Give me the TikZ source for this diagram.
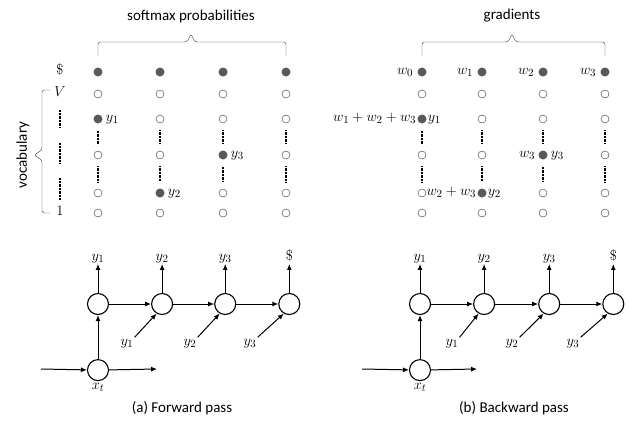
\documentclass[tikz,border=0pt]{standalone}
\usepackage{fontspec}
\setsansfont{Carlito}
\usepackage{tikz}
\usetikzlibrary{arrows.meta,positioning}

\begin{document}
\begin{tikzpicture}[
    x=1pt, y=-1pt,
    >={Latex[length=6pt,width=5pt]},
    font=\fontsize{15.5}{17}\selectfont,
    full/.style={
		circle,
		fill=black!65,
		inner sep=0pt,
		minimum size=9pt
	},
    empty/.style={
		circle,
		draw=black!80,
		fill=white,
		inner sep=0pt,
		minimum size=8pt
	},
    cell/.style={
		circle,
		draw=black,
		line width=1.1pt,
		inner sep=0pt,
		minimum size=21pt
	},
    dotline/.style={
		line width=1.4pt,
		dash pattern=on 0.7pt off 0.7pt
	},
    vdots/.style={
		dotline,
		shorten <=7pt,
		shorten >=7pt
	},
    bracket/.style={
		draw=black!80,
		rounded corners=2.5pt
	},
    word/.style={
		inner sep=1pt,
		text height=1.6ex,
		text depth=0.5ex
	},
    caption/.style={
		font=\sffamily\fontsize{15}{17}\selectfont
	},
    link/.style={
		->,
		line width=1pt
	}
  ]
  \useasboundingbox (0,0) rectangle (631,424);

    % softmax probabilities (left)
  \node [caption] (softmax) at (191,16) {softmax probabilities};
  \draw [bracket] (98,56) -- (98,42) -- (187,42) -- (191,34) -- (195,42) -- (286,42) -- (286,56);

  \foreach \c/\x/\a/\b/\d in {1/98/full/empty/empty, 2/160/empty/empty/full,
                             3/223/empty/full/empty, 4/286/empty/empty/empty} {
    \node [full]  (Ls\c) at (\x,72)  {};
    \node [empty] (Lv\c) at (\x,94)  {};
    \node [\a]    (La\c) at (\x,119) {};
    \node [\b]    (Lb\c) at (\x,155) {};
    \node [\d]    (Ld\c) at (\x,193) {};
    \node [empty] (Lo\c) at (\x,213) {};
    \draw [vdots] (La\c) -- (Lb\c);
    \draw [vdots] (Lb\c) -- (Ld\c);
  }

  \node [word, right=2pt of La1] (Ly1) {$y_1$};
  \node [word, right=2pt of Ld2] (Ly2) {$y_2$};
  \node [word, right=2pt of Lb3] (Ly3) {$y_3$};

    % vocabulary axis
  \node [word] (dollar) at (60,72)  {$\$$};
  \node [word] (vmax)   at (60,94)  {$V$};
  \node [word] (vone)   at (60,213) {$1$};
  \draw [dotline] (60,110) -- (60,128);
  \draw [dotline] (60,143) -- (60,163);
  \draw [dotline] (60,178) -- (60,200);
  \draw [bracket] (50,90) -- (42,90) -- (42,150) -- (34,155) -- (42,160) -- (42,213) -- (50,213);
  \node [caption, rotate=90] (vocab) at (23,155) {vocabulary};

    % gradients (right)
  \node [caption] (grad) at (512,16) {gradients};
  \draw [bracket] (422,56) -- (422,42) -- (508,42) -- (512,34) -- (516,42) -- (605,42) -- (605,56);

  \foreach \c/\x/\a/\b/\d in {1/422/full/empty/empty, 2/482/empty/empty/full,
                             3/543/empty/full/empty, 4/605/empty/empty/empty} {
    \node [full]  (Rs\c) at (\x,72)  {};
    \node [empty] (Rv\c) at (\x,94)  {};
    \node [\a]    (Ra\c) at (\x,119) {};
    \node [\b]    (Rb\c) at (\x,155) {};
    \node [\d]    (Rd\c) at (\x,193) {};
    \node [empty] (Ro\c) at (\x,213) {};
    \draw [vdots] (Ra\c) -- (Rb\c);
    \draw [vdots] (Rb\c) -- (Rd\c);
  }

  \node [word, left=3pt of Rs1] (w0) {$w_0$};
  \node [word, left=3pt of Rs2] (w1) {$w_1$};
  \node [word, left=3pt of Rs3] (w2) {$w_2$};
  \node [word, left=3pt of Rs4] (w3) {$w_3$};
  \node [word, left=0pt of Ra1] (wa) {$w_1+w_2+w_3$};
  \node [word, right=0pt of Ra1] (Ry1) {$y_1$};
  \node [word, left=0pt of Rd2] (wd) {$w_2+w_3$};
  \node [word, right=0pt of Rd2] (Ry2) {$y_2$};
  \node [word, left=2pt of Rb3] (wb) {$w_3$};
  \node [word, right=2pt of Rb3] (Ry3) {$y_3$};

    % forward pass
  \node [cell] (Lh1) at (98,304) {};
  \node [cell, right=42pt of Lh1] (Lh2) {};
  \node [cell, right=41pt of Lh2] (Lh3) {};
  \node [cell, right=42pt of Lh3] (Lh4) {};
  \node [cell, below=44pt of Lh1] (Lx) {};
  \node [word, below=0pt of Lx] (Lxt) {$x_t$};
  \coordinate (Lin)  at (41,369);
  \coordinate (Lout) at (157,369);

  \node [word, above=29pt of Lh1] (Lo1) {$y_1$};
  \node [word, above=29pt of Lh2] (Lo2) {$y_2$};
  \node [word, above=29pt of Lh3] (Lo3) {$y_3$};
  \node [word, above=29pt of Lh4] (Lo4) {$\$$};
  \node [word] (Li2) at (127,343) {$y_1$};
  \node [word] (Li3) at (190,343) {$y_2$};
  \node [word] (Li4) at (250,343) {$y_3$};

  \draw [link] (Lin) -- (Lx);
  \draw [link] (Lx) -- (Lout);
  \draw [link] (Lx) -- (Lh1);
  \draw [link] (Lh1) -- (Lh2);
  \draw [link] (Lh2) -- (Lh3);
  \draw [link] (Lh3) -- (Lh4);
  \draw [link] (Lh1) -- (Lo1);
  \draw [link] (Lh2) -- (Lo2);
  \draw [link] (Lh3) -- (Lo3);
  \draw [link] (Lh4) -- (Lo4);
  \draw [link] (Li2.north east) -- (Lh2.240);
  \draw [link] (Li3.north east) -- (Lh3.240);
  \draw [link] (Li4.north east) -- (Lh4.240);
  \node [caption] (capa) at (182,408) {(a) Forward pass};

    % backward pass
  \node [cell] (Rh1) at (420,304) {};
  \node [cell, right=42pt of Rh1] (Rh2) {};
  \node [cell, right=43pt of Rh2] (Rh3) {};
  \node [cell, right=42pt of Rh3] (Rh4) {};
  \node [cell, below=44pt of Rh1] (Rx) {};
  \node [word, below=0pt of Rx] (Rxt) {$x_t$};
  \coordinate (Rin)  at (362,369);
  \coordinate (Rout) at (477,369);

  \node [word, above=29pt of Rh1] (Ro1) {$y_1$};
  \node [word, above=29pt of Rh2] (Ro2) {$y_2$};
  \node [word, above=29pt of Rh3] (Ro3) {$y_3$};
  \node [word, above=29pt of Rh4] (Ro4) {$\$$};
  \node [word] (Ri2) at (452,343) {$y_1$};
  \node [word] (Ri3) at (512,343) {$y_2$};
  \node [word] (Ri4) at (573,343) {$y_3$};

  \draw [link] (Rin) -- (Rx);
  \draw [link] (Rx) -- (Rout);
  \draw [link] (Rx) -- (Rh1);
  \draw [link] (Rh1) -- (Rh2);
  \draw [link] (Rh2) -- (Rh3);
  \draw [link] (Rh3) -- (Rh4);
  \draw [link] (Rh1) -- (Ro1);
  \draw [link] (Rh2) -- (Ro2);
  \draw [link] (Rh3) -- (Ro3);
  \draw [link] (Rh4) -- (Ro4);
  \draw [link] (Ri2.north east) -- (Rh2.240);
  \draw [link] (Ri3.north east) -- (Rh3.240);
  \draw [link] (Ri4.north east) -- (Rh4.240);
  \node [caption] (capb) at (514,408) {(b) Backward pass};
\end{tikzpicture}
\end{document}
